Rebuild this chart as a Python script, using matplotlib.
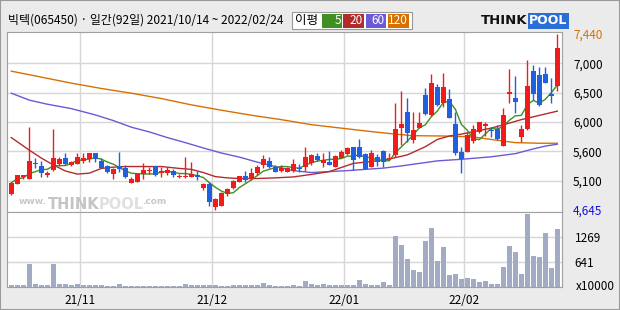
import numpy as np
import pandas as pd
import matplotlib
matplotlib.use('Agg')
import matplotlib.pyplot as plt
from matplotlib.patches import Rectangle

plt.rcParams['font.family'] = ['Noto Sans CJK KR', 'DejaVu Sans']

# ---- data (daily candles, 2021/10/14 ~ 2022/02/24, 92 days) ----
title = '빅텍(065450) · 일간(92일) 2021/10/14 ~ 2022/02/24'
month_labels = ['21/11', '21/12', '22/01', '22/02']
month_start_idx = [12, 34, 56, 76]

opens = [4900, 5060, 5175, 5135, 5390, 5350, 5195, 5280, 5375, 5475,
         5355, 5375, 5420, 5450, 5545, 5425, 5340, 5215, 5345, 5305,
         5080, 5090, 5220, 5265, 5345, 5225, 5225, 5270, 5165, 5165,
         5175, 5200, 5000, 5055, 4695, 4715, 4900, 4995, 5095, 5185,
         5130, 5225, 5360, 5425, 5325, 5270, 5255, 5270, 5310, 5325,
         5385, 5500, 5395, 5410, 5330, 5470, 5530, 5640, 5640, 5535,
         5330, 5480, 5580, 5450, 5520, 5940, 6205, 5755, 5945, 6470,
         6155, 6595, 6340, 6405, 6010, 5560, 5570, 5745, 5885, 5980,
         5915, 5925, 5665, 6490, 6420, 5810, 5925, 6850, 6785, 6810,
         6480, 6620]
highs = [5090, 5200, 5205, 5965, 5470, 5425, 5270, 5925, 5490, 5545,
         5425, 5545, 5545, 5555, 5555, 5465, 5365, 5310, 5560, 5360,
         5175, 5225, 5395, 5330, 5350, 5330, 5330, 5290, 5215, 5490,
         5400, 5270, 5075, 5090, 4830, 4935, 4995, 5115, 5190, 5265,
         5305, 5360, 5520, 5490, 5360, 5360, 5325, 5455, 5375, 5640,
         5535, 5545, 5545, 5580, 5520, 5595, 5640, 5645, 5770, 5545,
         5595, 5540, 5595, 5545, 6350, 6535, 6420, 6195, 6195, 6585,
         6800, 6645, 6815, 6565, 6205, 5650, 5890, 5995, 6045, 6040,
         5965, 5995, 6260, 6880, 6770, 5995, 7025, 6945, 6920, 6920,
         6735, 7440]
lows = [4890, 5050, 5140, 5135, 5310, 5175, 5165, 5270, 5345, 5360,
        5345, 5370, 5385, 5410, 5405, 5305, 5225, 5135, 5255, 5155,
        5070, 5085, 5140, 5215, 5190, 5165, 5200, 5175, 5160, 5160,
        5165, 5120, 4960, 4710, 4645, 4710, 4870, 4985, 5090, 5085,
        5125, 5200, 5305, 5310, 5255, 5255, 5250, 5255, 5250, 5270,
        5365, 5425, 5325, 5360, 5330, 5465, 5520, 5280, 5465, 5290,
        5325, 5345, 5330, 5440, 5490, 5675, 5730, 5705, 5940, 6155,
        6145, 6295, 6285, 6100, 5520, 5235, 5565, 5705, 5860, 5820,
        5810, 5755, 5660, 6340, 6190, 5730, 5915, 6390, 6295, 6655,
        6340, 6540]
closes = [5080, 5195, 5195, 5425, 5375, 5235, 5225, 5465, 5450, 5375,
          5405, 5480, 5475, 5545, 5450, 5315, 5250, 5300, 5290, 5175,
          5130, 5215, 5280, 5280, 5195, 5270, 5280, 5195, 5185, 5185,
          5215, 5165, 5055, 4775, 4820, 4915, 4980, 5105, 5185, 5120,
          5225, 5325, 5455, 5330, 5255, 5315, 5315, 5375, 5290, 5480,
          5520, 5440, 5440, 5360, 5505, 5565, 5630, 5440, 5480, 5290,
          5550, 5410, 5410, 5475, 5930, 6010, 5865, 5915, 6030, 6170,
          6655, 6310, 6600, 6110, 5555, 5455, 5830, 5930, 6040, 6010,
          5900, 5765, 6155, 6520, 6365, 5930, 6615, 6495, 6310, 6665,
          6460, 7220]
# volume in units of 10000 shares
volumes = [59, 59, 59, 593, 84, 59, 59, 593, 84, 84,
           59, 84, 59, 59, 59, 59, 33, 33, 84, 33,
           33, 33, 33, 33, 33, 33, 33, 33, 33, 84,
           59, 59, 59, 59, 59, 33, 33, 59, 59, 59,
           59, 59, 110, 59, 33, 33, 33, 59, 33, 160,
           84, 59, 84, 59, 59, 59, 59, 59, 186, 84,
           59, 59, 135, 59, 1307, 1077, 721, 441, 390, 1179,
           1510, 670, 1026, 313, 339, 211, 237, 211, 135, 160,
           84, 84, 517, 1052, 899, 339, 1867, 797, 772, 1383,
           492, 1485]

# moving averages (index, value)
ma20_idx = [0, 3, 5, 7, 9, 11, 13, 15, 17, 19, 22, 25, 28, 30, 32, 34, 36, 38,
            41, 44, 47, 50, 53, 55, 57, 60, 63, 66, 69, 71, 73, 75, 77, 80, 83,
            85, 87, 89, 91]
ma20_val = [5795, 5595, 5470, 5360, 5265, 5215, 5230, 5305, 5325, 5335, 5335,
            5335, 5305, 5290, 5240, 5175, 5155, 5145, 5145, 5155, 5170, 5210,
            5255, 5320, 5385, 5415, 5455, 5520, 5650, 5765, 5820, 5850, 5890,
            5945, 6025, 6080, 6125, 6170, 6215]
ma60_idx = [0, 3, 6, 10, 14, 17, 20, 23, 26, 29, 32, 35, 38, 41, 44, 47, 50, 53,
            56, 59, 62, 65, 68, 71, 75, 80, 84, 87, 89, 91]
ma60_val = [6500, 6390, 6325, 6255, 6155, 6065, 5960, 5885, 5795, 5715, 5630,
            5550, 5485, 5405, 5335, 5270, 5240, 5255, 5270, 5290, 5310, 5345,
            5385, 5425, 5450, 5490, 5540, 5615, 5660, 5690]
ma120_idx = [0, 5, 10, 15, 20, 25, 30, 35, 40, 45, 50, 55, 60, 64, 67, 72, 77,
             80, 84, 88, 91]
ma120_val = [6850, 6755, 6660, 6575, 6500, 6415, 6315, 6230, 6150, 6080, 6000,
             5945, 5890, 5850, 5825, 5820, 5805, 5765, 5715, 5705, 5705]

price_min, price_max = 4645, 7440
price_labels = ['4,645', '5,100', '5,600', '6,000', '6,500', '7,000', '7,440']
vol_ticks = [641, 1269]

# colors
up_color = '#f01c1c'
down_color = '#1f5fe0'
ma_colors = {'5': '#3f8f22', '20': '#b22c2c', '60': '#6a5ad6', '120': '#d87000'}
grid_color = '#d6d6d6'
frame_color = '#a0a0a0'

W, H = 620, 310


def fx(px):
    return px / W


def fy(py):
    return 1 - py / H


fig = plt.figure(figsize=(6.2, 3.1), dpi=100, facecolor='#ebebeb')
ax = fig.add_axes([fx(7), fy(212), fx(555), 180 / H])
axv = fig.add_axes([fx(7), fy(287), fx(555), 75 / H], sharex=ax)

idx = np.arange(len(closes))
o = np.array(opens)
c = np.array(closes)
h = np.array(highs)
l = np.array(lows)
up = c >= o
colors = np.where(up, up_color, down_color)

# price panel
ax.set_ylim(price_min - 32, price_max + 32)
ax.set_xlim(-0.72, 91.78)
grid_vals = np.linspace(price_min, price_max, 7)
for g in grid_vals[1:-1]:
    ax.axhline(g, color=grid_color, lw=1, zorder=0)
for m in month_start_idx:
    ax.axvline(m - 0.5, color=grid_color, lw=1, zorder=0)
    axv.axvline(m - 0.5, color=grid_color, lw=1, zorder=0)


def ax_x(px):
    # pixel x -> axes fraction of the price panel
    return (px - 7) / 555


# watermark
ax.text(ax_x(19), 0.035, 'www.', transform=ax.transAxes, fontsize=6.5,
        color='#c8c8c8', fontweight='bold', va='bottom', zorder=1,
        family='DejaVu Sans')
ax.text(ax_x(48), 0.0, 'THINK', transform=ax.transAxes, fontsize=10.5,
        color='#c4c4c4', fontweight='bold', va='bottom', zorder=1,
        family='DejaVu Sans')
ax.text(ax_x(99), 0.0, 'POOL', transform=ax.transAxes, fontsize=10.5,
        color='#e0e0e0', fontweight='bold', va='bottom', zorder=1,
        family='DejaVu Sans')
ax.text(ax_x(142), 0.035, '.com', transform=ax.transAxes, fontsize=6.5,
        color='#c8c8c8', fontweight='bold', va='bottom', zorder=1,
        family='DejaVu Sans')

# moving averages
ma5 = pd.Series(closes).rolling(5, min_periods=1).mean()
ax.plot(ma120_idx, ma120_val, color=ma_colors['120'], lw=1, zorder=2)
ax.plot(ma60_idx, ma60_val, color=ma_colors['60'], lw=1, zorder=2)
ax.plot(ma20_idx, ma20_val, color=ma_colors['20'], lw=1, zorder=2)
ax.plot(idx, ma5, color=ma_colors['5'], lw=1, zorder=2)

# candles
ax.vlines(idx, l, h, colors=colors, lw=1, zorder=3)
body = np.maximum(np.abs(c - o), 14)
ax.bar(idx, body, bottom=np.minimum(o, c), width=0.8, color=colors,
       linewidth=0, zorder=4)

ax.yaxis.tick_right()
ax.set_yticks(grid_vals)
ax.set_yticklabels(price_labels)
ax.tick_params(axis='y', length=0, pad=8, labelsize=8.5)
ticklabels = ax.get_yticklabels()
ticklabels[0].set_color('#1010e0')
ticklabels[-1].set_color('#d87000')
ax.tick_params(axis='x', length=0, labelbottom=False)
for s in ax.spines.values():
    s.set_color(frame_color)

# volume panel
axv.set_ylim(0, 1910)
for g in vol_ticks:
    axv.axhline(g, color=grid_color, lw=1, zorder=0)
axv.bar(idx, volumes, width=0.8, color='#a3abc4', linewidth=0, zorder=2)
axv.yaxis.tick_right()
axv.set_yticks(vol_ticks)
axv.set_yticklabels([str(v) for v in vol_ticks])
axv.tick_params(axis='y', length=0, pad=9, labelsize=8.5)
axv.set_xticks([m - 0.5 for m in month_start_idx])
axv.set_xticklabels(month_labels)
axv.tick_params(axis='x', length=0, pad=5, labelsize=8.5)
for s in axv.spines.values():
    s.set_color(frame_color)
fig.text(fx(576), fy(287), 'x10000', fontsize=8.5, va='center', ha='left')

# header
fig.text(fx(8), fy(20), title, fontsize=8.6, va='center', ha='left')

# MA legend box
fig.patches.append(Rectangle((fx(292), fy(29)), fx(120), 17 / H, transform=fig.transFigure,
                             facecolor='white', edgecolor='#999999', lw=0.8))
fig.text(fx(295), fy(20.5), '이평', fontsize=9, va='center', ha='left')
legend_boxes = [('5', 322, 342), ('20', 343, 364), ('60', 366, 386), ('120', 388, 409)]
for name, x0, x1 in legend_boxes:
    fig.patches.append(Rectangle((fx(x0), fy(27.5)), fx(x1 - x0), 13.5 / H,
                                 transform=fig.transFigure, facecolor=ma_colors[name],
                                 edgecolor='none'))
    fig.text(fx(x1 - 1), fy(20.5), name, fontsize=8.5, color='white', va='center', ha='right')

# logo
fig.text(fx(481), fy(21), 'THINK', fontsize=9.5, fontweight='bold', va='center', ha='left',
         family='DejaVu Sans', color='#111111')
fig.text(fx(529), fy(21), 'POOL', fontsize=9, fontweight='bold', va='center', ha='left',
         family='DejaVu Sans', color='white',
         bbox=dict(boxstyle='square,pad=0.1', facecolor='#2b6fd6', edgecolor='none'))

# outer frame
fig.patches.append(Rectangle((0, 0), 1, 1, transform=fig.transFigure, fill=False,
                             edgecolor='#9a9a9a', lw=1.5))

fig.savefig('out.png', dpi=100, facecolor=fig.get_facecolor())
